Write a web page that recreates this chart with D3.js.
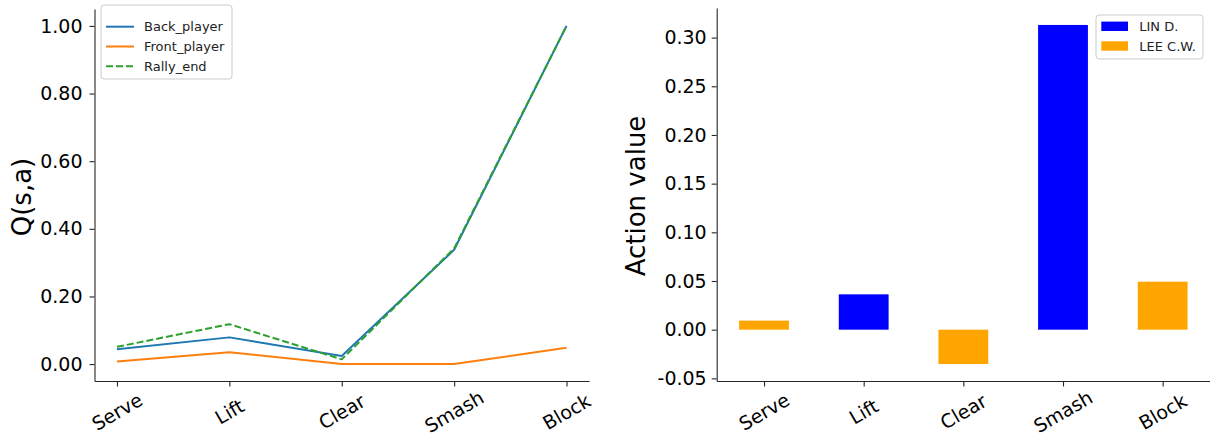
<!DOCTYPE html>
<html><head><meta charset="utf-8">
<script src="https://cdn.jsdelivr.net/npm/d3@7"></script>
<style>
html,body{margin:0;padding:0;background:#fff;}
svg{display:block;font-family:"DejaVu Sans",sans-serif;}
</style></head>
<body>
<svg id="chart" width="1210" height="438"></svg>
<script>
// ---- data ----
const actions = ["Serve", "Lift", "Clear", "Smash", "Block"];
const backPlayer  = [0.044, 0.079, 0.024, 0.338, 1.0];
const frontPlayer = [0.008, 0.035, 0.0, 0.0, 0.048];
const rallyEnd    = [0.051, 0.118, 0.014, 0.342, 1.0];
const lineSeriesNames = ["Back_player", "Front_player", "Rally_end"];
const leftYTicks = [0, 0.2, 0.4, 0.6, 0.8, 1.0];

const actionValues = [0.0093, 0.0363, -0.0353, 0.313, 0.0493];
const actionPlayer = ["LEE C.W.", "LIN D.", "LEE C.W.", "LIN D.", "LEE C.W."];
const playerNames = ["LIN D.", "LEE C.W."];
const rightYTicks = [-0.05, 0, 0.05, 0.10, 0.15, 0.20, 0.25, 0.30];

// ---- styles ----
const lineColors = {"Back_player":"#1f77b4","Front_player":"#ff7f0e","Rally_end":"#2ca02c"};
const playerColors = {"LIN D.":"#0000ff","LEE C.W.":"#ffa500"};
const axisColor = "#262626";
const tickFont = 19;
const xLabelY = 411.5;

const svg = d3.select("#chart");

function margin(lo, hi){ const r = hi - lo; return [lo - 0.05*r, hi + 0.05*r]; }

function styleAxis(g){
  g.select(".domain").attr("stroke", axisColor).attr("stroke-width", 1.1);
  g.selectAll(".tick line").attr("stroke", axisColor).attr("stroke-width", 1.1);
  g.selectAll(".tick text").attr("fill", "#000").attr("font-size", tickFont)
   .attr("font-family", "DejaVu Sans");
}

function rotatedXLabels(x){
  actions.forEach((a,i)=>{
    svg.append("text").attr("transform", `translate(${x(i)},${xLabelY}) rotate(-30)`)
     .attr("text-anchor","middle").attr("dominant-baseline","central")
     .attr("font-size", tickFont).attr("fill","#000").text(a);
  });
}

// ===== LEFT: line chart =====
{
  const all = backPlayer.concat(frontPlayer, rallyEnd);
  const x = d3.scaleLinear().domain(margin(0, actions.length-1)).range([94.5, 589]);
  const y = d3.scaleLinear().domain(margin(d3.min(all), d3.max(all))).range([381, 9]);

  const gx = svg.append("g").attr("transform","translate(0,381)")
    .call(d3.axisBottom(x).tickValues(d3.range(actions.length)).tickSize(5.5).tickSizeOuter(0));
  styleAxis(gx);
  gx.selectAll(".tick text").remove();
  rotatedXLabels(x);

  const gy = svg.append("g").attr("transform","translate(94.5,0)")
    .call(d3.axisLeft(y).tickValues(leftYTicks).tickFormat(d3.format(".2f")).tickSize(5).tickPadding(7).tickSizeOuter(0));
  styleAxis(gy);

  svg.append("text").attr("transform","translate(31,197) rotate(-90)")
    .attr("text-anchor","middle").attr("font-size",26).attr("fill","#000").text("Q(s,a)");

  const series = [backPlayer, frontPlayer, rallyEnd];
  const line = d3.line().x((d,i)=>x(i)).y(d=>y(d));
  series.forEach((s,k)=>{
    const name = lineSeriesNames[k];
    svg.append("path").datum(s).attr("d", line).attr("fill","none")
      .attr("stroke", lineColors[name]).attr("stroke-width", 2)
      .attr("stroke-dasharray", name === "Rally_end" ? "7,3" : null)
      .attr("stroke-linejoin","round");
  });

  // legend
  const lg = svg.append("g").attr("transform","translate(101,5)");
  lg.append("rect").attr("width",131).attr("height",74).attr("rx",3)
    .attr("fill","#fff").attr("fill-opacity",0.8).attr("stroke","#cccccc").attr("stroke-width",1);
  lineSeriesNames.forEach((n,i)=>{
    const yy = 21.7 + i*19.8;
    lg.append("line").attr("x1",5).attr("x2",33).attr("y1",yy).attr("y2",yy)
      .attr("stroke", lineColors[n]).attr("stroke-width",2)
      .attr("stroke-dasharray", n === "Rally_end" ? "7,3" : null);
    lg.append("text").attr("x",43).attr("y",yy).attr("dominant-baseline","central")
      .attr("font-size",13).attr("fill","#222").text(n);
  });
}

// ===== RIGHT: bar chart =====
{
  const bw = 0.5;
  const x = d3.scaleLinear().domain(margin(-bw/2, actions.length-1+bw/2)).range([716.7, 1210]);
  const y = d3.scaleLinear().domain(margin(d3.min(actionValues), d3.max(actionValues))).range([381, 8]);

  svg.selectAll(".bar").data(actionValues).enter().append("rect")
    .attr("x",(d,i)=>x(i-bw/2)).attr("width",(d,i)=>x(i+bw/2)-x(i-bw/2))
    .attr("y",d=>y(Math.max(0,d))).attr("height",d=>Math.abs(y(d)-y(0)))
    .attr("fill",(d,i)=>playerColors[actionPlayer[i]]);

  const gx = svg.append("g").attr("transform","translate(0,381)")
    .call(d3.axisBottom(x).tickValues(d3.range(actions.length)).tickSize(5.5).tickSizeOuter(0));
  styleAxis(gx);
  gx.selectAll(".tick text").remove();
  rotatedXLabels(x);

  const gy = svg.append("g").attr("transform","translate(716.7,0)")
    .call(d3.axisLeft(y).tickValues(rightYTicks).tickFormat(d=>d3.format(".2f")(d).replace("−","-")).tickSize(5).tickPadding(5).tickSizeOuter(0));
  styleAxis(gy);

  svg.append("text").attr("transform","translate(645,196) rotate(-90)")
    .attr("text-anchor","middle").attr("font-size",26).attr("fill","#000").text("Action value");

  const lg = svg.append("g").attr("transform","translate(1096,15)");
  lg.append("rect").attr("width",107).attr("height",44).attr("rx",3)
    .attr("fill","#fff").attr("fill-opacity",0.8).attr("stroke","#cccccc").attr("stroke-width",1);
  playerNames.forEach((n,i)=>{
    const yy = 11.3 + i*19.7;
    lg.append("rect").attr("x",5.3).attr("y",yy-4.7).attr("width",26.7).attr("height",9.4)
      .attr("fill", playerColors[n]);
    lg.append("text").attr("x",43.3).attr("y",yy).attr("dominant-baseline","central")
      .attr("font-size",13).attr("fill","#222").text(n);
  });
}
</script>
</body></html>
